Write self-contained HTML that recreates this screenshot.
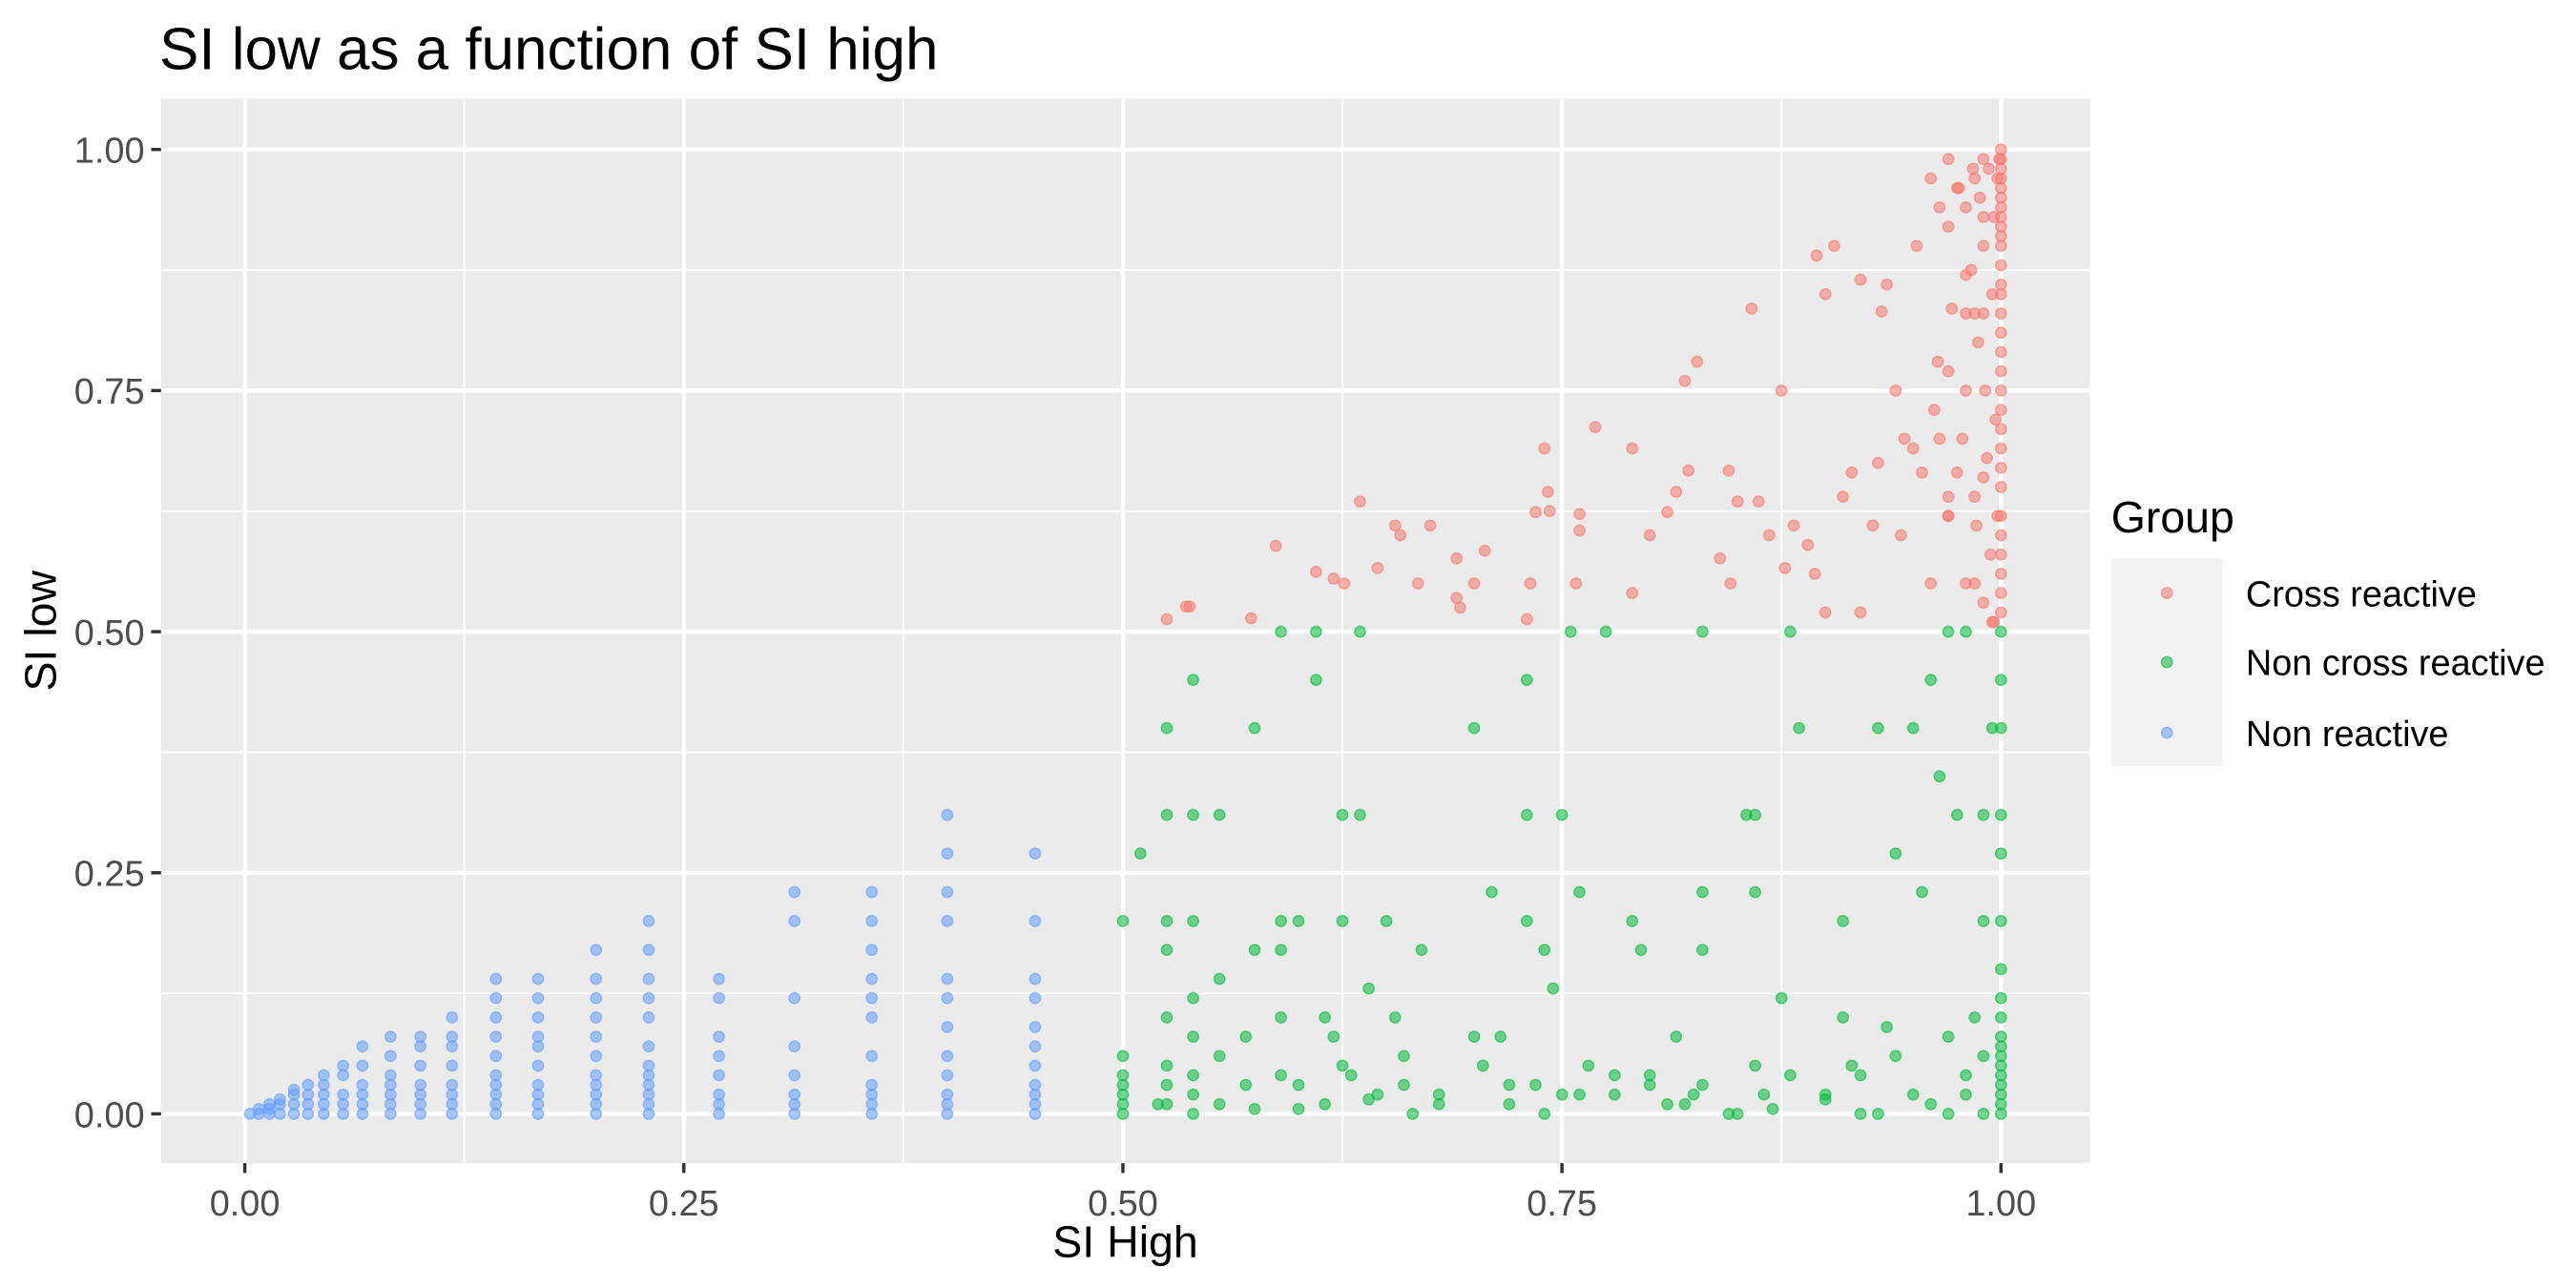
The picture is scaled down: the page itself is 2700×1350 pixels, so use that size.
<!DOCTYPE html>
<html><head><meta charset="utf-8">
<style>
html,body{margin:0;padding:0;background:#fff;}
svg{display:block;font-family:"Liberation Sans",sans-serif;}
</style></head>
<body>
<svg id="chart" width="2700" height="1350" viewBox="0 0 1568 784" preserveAspectRatio="none" xmlns="http://www.w3.org/2000/svg">
<rect width="1568" height="784" fill="#fff"/>
<text x="97" y="42" font-size="36" fill="#000">SI low as a function of SI high</text>
<rect x="98" y="60" width="1174" height="648" fill="#EBEBEB"/>
<g id="grid"></g>
<g id="points"></g>
<g id="axes"></g>
<text x="685" y="765" font-size="27" text-anchor="middle" fill="#000">SI High</text>
<text transform="translate(34,384) rotate(-90)" font-size="27" text-anchor="middle" fill="#000">SI low</text>
<g>
<text x="1285" y="324" font-size="27" fill="#000">Group</text>
<rect x="1285" y="340" width="68" height="126" fill="#F2F2F2"/>
<g id="legend-keys"></g>
</g>
</svg>
<script>
const xTicks=[0,0.25,0.5,0.75,1];
const xTickLabels=["0.00","0.25","0.50","0.75","1.00"];
const yTicks=[0,0.25,0.5,0.75,1];
const yTickLabels=["0.00","0.25","0.50","0.75","1.00"];
const groups=["Cross reactive","Non cross reactive","Non reactive"];
const colors=["#F8766D","#00BA38","#619CFF"];

const redX=[0.525,0.536,0.538,0.573,0.587,0.61,0.62,0.626,0.635,0.645,0.655,0.658,0.668,0.675,0.69,0.69,0.692,0.7,0.706,0.73,0.732,0.735,0.74,0.742,0.743,0.758,0.76,0.76,0.769,0.79,0.79,0.8,0.81,0.815,0.82,0.822,0.827,0.84,0.845,0.846,0.85,0.858,0.862,0.868,0.875,0.877,0.882,0.89,0.894,0.895,0.9,0.905,0.9,0.91,0.915,0.92,0.92,0.927,0.93,0.932,0.935,0.94,0.943,0.945,0.95,0.952,0.955,0.96,0.962,0.964,0.965,0.97,0.97,0.972,0.975,0.976,0.978,0.98,0.98,0.983,0.984,0.985,0.986,0.987,0.988,0.99,0.99,0.991,0.992,0.993,0.994,0.995,0.996,0.996,0.997,0.998,0.998,0.999,1,1,1,1,1,1,1,1,1,1,1,1,1,1,1,1,1,1,1,1,1,1,1,1,1,1,1,1,1,1,0.995,0.99,0.985,0.98,0.97,0.96,0.975,0.99,0.99,0.98,0.985,0.97,0.98,0.97,0.99,0.965,0.97,0.985];
const redY=[0.513,0.526,0.526,0.514,0.589,0.562,0.555,0.55,0.635,0.566,0.61,0.6,0.55,0.61,0.576,0.535,0.525,0.55,0.584,0.513,0.55,0.624,0.69,0.645,0.625,0.55,0.622,0.605,0.712,0.69,0.54,0.6,0.624,0.645,0.76,0.667,0.78,0.576,0.667,0.55,0.635,0.835,0.635,0.6,0.75,0.566,0.61,0.59,0.56,0.89,0.52,0.9,0.85,0.64,0.665,0.52,0.865,0.61,0.675,0.832,0.86,0.75,0.6,0.7,0.69,0.9,0.665,0.55,0.73,0.78,0.94,0.92,0.62,0.835,0.665,0.96,0.7,0.75,0.55,0.875,0.98,0.64,0.61,0.8,0.95,0.53,0.9,0.75,0.68,0.98,0.58,0.85,0.51,0.93,0.72,0.97,0.62,0.99,1,0.99,0.98,0.97,0.96,0.95,0.94,0.93,0.92,0.91,0.9,0.88,0.86,0.85,0.83,0.81,0.79,0.77,0.75,0.73,0.71,0.69,0.67,0.65,0.62,0.6,0.58,0.56,0.54,0.52,0.51,0.99,0.97,0.94,0.99,0.97,0.96,0.93,0.83,0.87,0.83,0.77,0.83,0.62,0.66,0.7,0.64,0.55,0.54];

const greenX=[0.5,0.5,0.5,0.5,0.5,0.5,0.5,0.51,0.52,0.525,0.525,0.525,0.525,0.525,0.525,0.525,0.525,0.54,0.54,0.54,0.54,0.54,0.54,0.54,0.54,0.555,0.555,0.555,0.555,0.57,0.57,0.575,0.575,0.575,0.59,0.59,0.59,0.59,0.59,0.6,0.6,0.61,0.61,0.615,0.615,0.625,0.625,0.625,0.63,0.635,0.635,0.64,0.645,0.65,0.655,0.66,0.665,0.67,0.68,0.7,0.705,0.71,0.715,0.72,0.73,0.73,0.73,0.735,0.74,0.745,0.75,0.755,0.76,0.765,0.775,0.78,0.79,0.795,0.8,0.81,0.815,0.825,0.83,0.83,0.83,0.83,0.845,0.855,0.86,0.86,0.865,0.87,0.875,0.88,0.885,0.9,0.91,0.91,0.915,0.92,0.93,0.935,0.94,0.95,0.955,0.96,0.965,0.97,0.975,0.98,0.985,0.99,0.99,0.995,1,1,1,1,1,1,1,1,1,1,1,1,1,1,1,1,1,1,0.6,0.64,0.68,0.72,0.74,0.76,0.78,0.82,0.85,0.88,0.9,0.93,0.95,0.96,0.97,0.98,0.99,0.62,0.66,0.7,0.75,0.8,0.86,0.92,0.94,0.97,0.98,0.99];
const greenY=[0,0.01,0.02,0.03,0.04,0.06,0.2,0.27,0.01,0.4,0.31,0.2,0.17,0.1,0.05,0.03,0.01,0.45,0.31,0.2,0.12,0.08,0.04,0.02,0,0.31,0.14,0.06,0.01,0.08,0.03,0.4,0.17,0.005,0.5,0.2,0.17,0.1,0.04,0.2,0.03,0.45,0.5,0.1,0.01,0.31,0.2,0.05,0.04,0.5,0.31,0.13,0.02,0.2,0.1,0.03,0,0.17,0.01,0.4,0.05,0.23,0.08,0.01,0.45,0.31,0.2,0.03,0.17,0.13,0.31,0.5,0.23,0.05,0.5,0.02,0.2,0.17,0.04,0.01,0.08,0.02,0.5,0.23,0.17,0.03,0,0.31,0.23,0.31,0.02,0.005,0.12,0.5,0.4,0.02,0.2,0.1,0.05,0,0.4,0.09,0.27,0.4,0.23,0.45,0.35,0.5,0.31,0.5,0.1,0.31,0.2,0.4,0.5,0.45,0.4,0.31,0.27,0.2,0.15,0.12,0.1,0.08,0.07,0.06,0.05,0.04,0.03,0.02,0.01,0,0.005,0.015,0.02,0.03,0,0.02,0.04,0.01,0,0.04,0.015,0,0.02,0.01,0,0.02,0,0.08,0.06,0.08,0.02,0.03,0.05,0.04,0.06,0.08,0.04,0.06];

const blueCols=[0.45,0.4,0.357,0.313,0.27,0.23,0.2,0.167,0.143,0.118,0.1,0.083,0.067,0.056,0.045,0.036,0.028,0.02,0.014,0.008,0.003];
const blueColsY=[
[0,0.01,0.02,0.03,0.05,0.07,0.09,0.12,0.14,0.2,0.27],
[0,0.01,0.02,0.04,0.06,0.09,0.12,0.14,0.2,0.23,0.27,0.31],
[0,0.01,0.02,0.03,0.06,0.1,0.12,0.14,0.17,0.2,0.23],
[0,0.01,0.02,0.04,0.07,0.12,0.2,0.23],
[0,0.01,0.02,0.04,0.06,0.08,0.12,0.14],
[0,0.01,0.02,0.03,0.04,0.05,0.07,0.1,0.12,0.14,0.17,0.2],
[0,0.01,0.02,0.03,0.04,0.06,0.08,0.1,0.12,0.14,0.17],
[0,0.01,0.02,0.03,0.05,0.07,0.08,0.1,0.12,0.14],
[0,0.01,0.02,0.03,0.04,0.06,0.08,0.1,0.12,0.14],
[0,0.01,0.02,0.03,0.05,0.07,0.08,0.1],
[0,0.01,0.02,0.03,0.05,0.07,0.08],
[0,0.01,0.02,0.03,0.04,0.06,0.08],
[0,0.01,0.02,0.03,0.05,0.07],
[0,0.01,0.02,0.04,0.05],
[0,0.01,0.02,0.03,0.04],
[0,0.01,0.02,0.03],
[0,0.01,0.02,0.025],
[0,0.01,0.015],
[0,0.005,0.01],
[0,0.005],
[0]];

const NS="http://www.w3.org/2000/svg";
const X0=149,X1=1218,Y0=678,Y1=91;
function sx(v){return X0+v*(X1-X0);}
function sy(v){return Y0-v*(Y0-Y1);}
function mk(tag,attrs,parent){const e=document.createElementNS(NS,tag);for(const k in attrs)e.setAttribute(k,attrs[k]);parent.appendChild(e);return e;}

const grid=document.getElementById('grid');
const minor=[0.125,0.375,0.625,0.875];
minor.forEach(v=>{
  const a=mk('line',{x1:sx(v),x2:sx(v),y1:60,y2:708,stroke:'#fff','stroke-width':1.2},grid);
  
  
  const b=mk('line',{x1:98,x2:1272,y1:sy(v),y2:sy(v),stroke:'#fff','stroke-width':1.2},grid);
  
  
});
const axes=document.getElementById('axes');
xTicks.forEach((v,i)=>{
  const g=mk('line',{x1:sx(v),x2:sx(v),y1:60,y2:708,stroke:'#fff','stroke-width':2.5},grid);
  
  
  const t=mk('line',{x1:sx(v),x2:sx(v),y1:708,y2:714,stroke:'#333','stroke-width':2},axes);
  
  
  const l=mk('text',{x:sx(v),y:740,'font-size':22,'text-anchor':'middle',fill:'#4D4D4D'},axes);
  l.textContent=xTickLabels[i];
  
  
});
yTicks.forEach((v,i)=>{
  const g=mk('line',{x1:98,x2:1272,y1:sy(v),y2:sy(v),stroke:'#fff','stroke-width':2.5},grid);
  
  
  const t=mk('line',{x1:92,x2:98,y1:sy(v),y2:sy(v),stroke:'#333','stroke-width':2},axes);
  
  
  const l=mk('text',{x:88,y:sy(v)+8,'font-size':22,'text-anchor':'end',fill:'#4D4D4D'},axes);
  l.textContent=yTickLabels[i];
  
  
});

const pts=document.getElementById('points');
function dot(x,y,c,name){
  const p=mk('circle',{cx:sx(x),cy:sy(y),r:3.3,fill:c,'fill-opacity':0.55,stroke:c,'stroke-opacity':0.6,'stroke-width':0.8},pts);
  
  
}
blueCols.forEach((x,i)=>{blueColsY[i].forEach(y=>dot(x,y,colors[2],'point-non-reactive'));});
greenX.forEach((x,i)=>dot(x,greenY[i],colors[1],'point-non-cross-reactive'));
redX.forEach((x,i)=>dot(x,redY[i],colors[0],'point-cross-reactive'));

const lk=document.getElementById('legend-keys');
const rowY=[361,403,446];
groups.forEach((g,i)=>{
  const c=mk('circle',{cx:1319,cy:rowY[i],r:3.3,fill:colors[i],'fill-opacity':0.55,stroke:colors[i],'stroke-opacity':0.6,'stroke-width':0.8},lk);
  
  
  const t=mk('text',{x:1367,y:rowY[i]+8,'font-size':22,fill:'#000'},lk);
  t.textContent=g;
  
  
});
</script>
</body></html>
